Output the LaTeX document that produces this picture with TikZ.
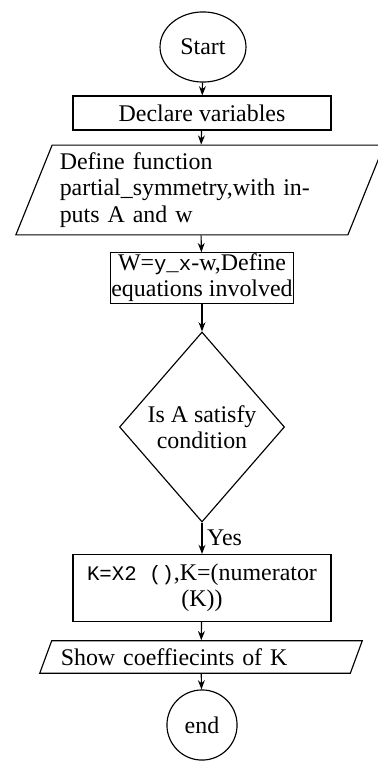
\documentclass[tikz,border=0pt]{standalone}
\usepackage{fontspec}
\setmainfont{Liberation Serif}
\setmonofont{Liberation Mono}
\usetikzlibrary{arrows.meta,shapes.geometric}
\newcommand\code[1]{{\fontsize{9}{11}\selectfont\ttfamily #1}}
\tikzset{base/.style={draw=black,line width=.5pt,font=\fontsize{10.4}{11.4}\selectfont,text=black},term/.style={base,ellipse,inner sep=0pt},proc/.style={base,rectangle,align=center,inner sep=.5pt},io/.style={base,trapezium,trapezium stretches=true,align=left,text width=122pt},dec/.style={base,diamond,align=center,inner sep=0pt,aspect=.87},flow/.style={-{Stealth[length=4pt,width=3pt]},line width=.5pt},lab/.style={font=\fontsize{10.4}{11.4}\selectfont,inner sep=2pt}}

\begin{document}
\begin{tikzpicture}[x=.435pt,y=-.435pt]
\useasboundingbox (0,0) rectangle (377,763);
\node[term,minimum width=37.4pt,minimum height=30.5pt] (start) at (203,47) {Start};
\node[proc,minimum width=112.2pt,minimum height=14.8pt] (decl) at (202,113) {Declare variables};
\node[io,trapezium left angle=68,trapezium right angle=112,minimum width=158.8pt,minimum height=37.4pt] (func) at (200,190) {Define function\\partial\_symmetry,with in-\\puts A and w};
\node[proc,minimum width=71.8pt,minimum height=21.75pt] (weq) at (202,278) {W=\code{y\_x}-w,Define\\equations involved};
\node[dec,minimum width=71.8pt,minimum height=82.65pt] (cond) at (202,427) {Is A satisfy\\condition};
\node[proc,minimum width=112.2pt,minimum height=29.1pt] (kbox) at (202,588) {\code{K=X2 ()},K=(numerator\\(K))};
\node[io,trapezium left angle=70,trapezium right angle=110,minimum width=140.5pt,minimum height=13.9pt] (show) at (201,657) {Show coeffiecints of K};
\node[term,circle,minimum size=30.5pt] (stop) at (202,725) {end};
\draw[flow] (start)--(decl);\draw[flow] (decl)--(func);\draw[flow] (func)--(weq);\draw[flow] (weq)--(cond);
\draw[flow] (cond)-- node[lab,right]{Yes} (kbox);\draw[flow] (kbox)--(show);\draw[flow] (show)--(stop);
\end{tikzpicture}
\end{document}
